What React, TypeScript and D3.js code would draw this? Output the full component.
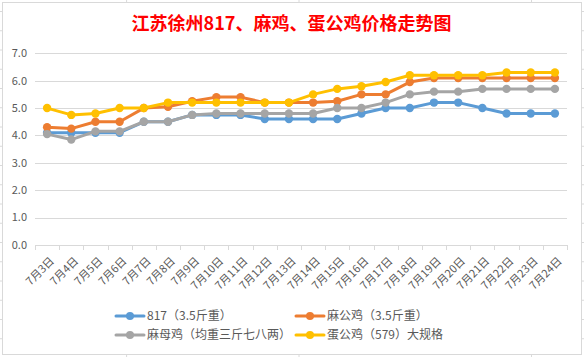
import React, { useEffect } from "react";
import * as d3 from "d3";

const categories = ["7月3日","7月4日","7月5日","7月6日","7月7日","7月8日","7月9日","7月10日","7月11日","7月12日","7月13日","7月14日","7月15日","7月16日","7月17日","7月18日","7月19日","7月20日","7月21日","7月22日","7月23日","7月24日"];
const s817 = [4.1,4.1,4.1,4.1,4.5,4.5,4.75,4.75,4.75,4.6,4.6,4.6,4.6,4.8,5.0,5.0,5.2,5.2,5.0,4.8,4.8,4.8];
const maGong = [4.3,4.25,4.5,4.5,5.0,5.05,5.25,5.4,5.4,5.2,5.2,5.2,5.25,5.5,5.5,5.95,6.1,6.1,6.1,6.1,6.1,6.1];
const maMu = [4.05,3.85,4.15,4.15,4.5,4.5,4.75,4.8,4.8,4.8,4.8,4.8,5.0,5.0,5.2,5.5,5.6,5.6,5.7,5.7,5.7,5.7];
const danGong = [5.0,4.75,4.8,5.0,5.0,5.2,5.2,5.2,5.2,5.2,5.2,5.5,5.7,5.8,5.95,6.2,6.2,6.2,6.2,6.3,6.3,6.3];
const seriesNames = ["817（3.5斤重）","麻公鸡（3.5斤重）","麻母鸡（均重三斤七八两）","蛋公鸡（579）大规格"];
const yTicks = [0,1,2,3,4,5,6,7];
const title = "江苏徐州817、麻鸡、蛋公鸡价格走势图";

const colors = ["#5B9BD5","#ED7D31","#A5A5A5","#FFC000"];
const W = 584, H = 357;
const font = "'Noto Sans CJK SC', 'Noto Sans', sans-serif";

export default function App() {
  useEffect(() => {
    document.body.style.margin = "0";
  }, []);
  const x = d3.scaleBand<string>().domain(categories).range([35, 567]);
  const y = d3.scaleLinear().domain([0, 7]).range([245, 53.3]);
  const cx = (c: string) => (x(c) as number) + x.bandwidth() / 2;
  const series = [s817, maGong, maMu, danGong];
  const line = d3.line<number>().x((_, i) => cx(categories[i])).y(d => y(d));
  const rows = d3.range(0, 20).map(k => 11.5 + 19.25 * k);
  const cols = [126.6, 299, 531.5];
  const legend = [
    { i: 0, lx: 116, ly: 316 },
    { i: 1, lx: 296, ly: 316 },
    { i: 2, lx: 116, ly: 335 },
    { i: 3, lx: 296, ly: 335 },
  ];
  return (
    <svg width={W} height={H} style={{ display: "block" }} fontFamily={font}>
      <rect width={W} height={H} fill="#fff" />
      {rows.map((r, k) => <line key={"r" + k} x1={0} x2={W} y1={r} y2={r} stroke="#DADADA" strokeWidth={1} />)}
      {cols.map((c, k) => <line key={"c" + k} x1={c} x2={c} y1={0} y2={H} stroke="#DADADA" strokeWidth={1} />)}
      <rect x={2.5} y={2.5} width={579} height={352} fill="#fff" stroke="#D9D9D9" strokeWidth={1} />
      <text x={291.5} y={30} textAnchor="middle" fill="#FF0000" fontSize={18} fontWeight="bold">{title}</text>
      {yTicks.map(t => (
        <g key={t}>
          <line x1={35} x2={567} y1={Math.round(y(t)) + 0.5} y2={Math.round(y(t)) + 0.5} stroke="#D9D9D9" strokeWidth={1} />
          <text x={27} y={y(t)} dy="0.35em" textAnchor="end" fill="#595959" fontSize={11}>{t.toFixed(1)}</text>
        </g>
      ))}
      {categories.map((c, i) => (
        <line key={"t" + i} x1={Math.round(x(c) as number) + 0.5} x2={Math.round(x(c) as number) + 0.5} y1={245} y2={250} stroke="#D9D9D9" />
      ))}
      <line x1={567.5} x2={567.5} y1={245} y2={250} stroke="#D9D9D9" />
      {categories.map((c, i) => (
        <text key={"xl" + i} transform={`translate(${cx(c) + 5},${259}) rotate(-45)`} textAnchor="end" dy="0.35em" fill="#595959" fontSize={11}>{c}</text>
      ))}
      {series.map((s, si) => (
        <g key={"s" + si}>
          <path d={line(s) as string} fill="none" stroke={colors[si]} strokeWidth={3} strokeLinejoin="round" strokeLinecap="round" />
          {s.map((v, i) => <circle key={i} cx={cx(categories[i])} cy={y(v)} r={4.2} fill={colors[si]} />)}
        </g>
      ))}
      {legend.map(l => (
        <g key={"lg" + l.i}>
          <line x1={l.lx} x2={l.lx + 28} y1={l.ly} y2={l.ly} stroke={colors[l.i]} strokeWidth={3} strokeLinecap="round" />
          <circle cx={l.lx + 14} cy={l.ly} r={4} fill={colors[l.i]} />
          <text x={l.lx + 31} y={l.ly} dy="0.35em" fill="#595959" fontSize={12}>{seriesNames[l.i]}</text>
        </g>
      ))}
    </svg>
  );
}
